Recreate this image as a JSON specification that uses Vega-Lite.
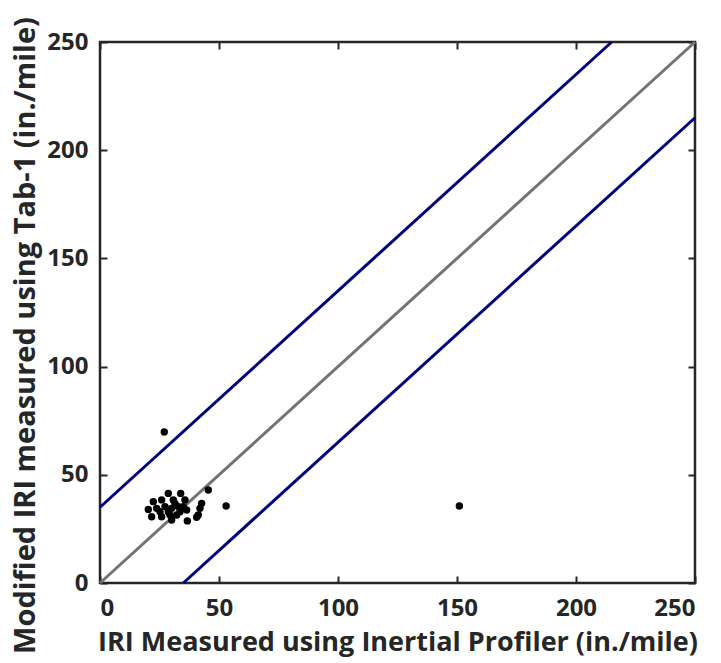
{
  "$schema": "https://vega.github.io/schema/vega-lite/v6.json",
  "width": 595,
  "height": 541,
  "autosize": "none",
  "padding": {"left": 100, "top": 42, "right": 26, "bottom": 80},
  "background": "white",
  "config": {
    "view": {"stroke": "#262626", "strokeWidth": 2.5},
    "axis": {
      "grid": false,
      "domain": false,
      "offset": -7,
      "tickSize": 7,
      "tickWidth": 2,
      "tickColor": "#262626",
      "labelFont": "Open Sans",
      "labelFontWeight": "bold",
      "labelFontSize": 24,
      "labelColor": "#262626",
      "titleFont": "Open Sans",
      "titleFontWeight": "bold",
      "titleFontSize": 27,
      "titleColor": "#262626"
    }
  },
  "datasets": {
    "lines": [
      {"x": 0, "y": 35, "x2": 215, "y2": 250, "kind": "upper"},
      {"x": 0, "y": 0, "x2": 250, "y2": 250, "kind": "equal"},
      {"x": 35, "y": 0, "x2": 250, "y2": 215, "kind": "lower"}
    ],
    "pts": [
      {"x": 28.7, "y": 41.4}, {"x": 33.9, "y": 41.4}, {"x": 25.9, "y": 38.4},
      {"x": 22.4, "y": 37.6}, {"x": 30.8, "y": 38.4}, {"x": 35.7, "y": 38.4},
      {"x": 42.7, "y": 36.8}, {"x": 20.3, "y": 34.0}, {"x": 23.8, "y": 34.5},
      {"x": 27.3, "y": 35.3}, {"x": 30.1, "y": 34.5}, {"x": 32.9, "y": 35.3},
      {"x": 36.4, "y": 33.7}, {"x": 42.0, "y": 34.5}, {"x": 21.7, "y": 30.6},
      {"x": 25.9, "y": 30.6}, {"x": 30.1, "y": 29.1}, {"x": 32.2, "y": 31.4},
      {"x": 36.7, "y": 28.7}, {"x": 41.3, "y": 31.4}, {"x": 40.6, "y": 30.4},
      {"x": 25.2, "y": 32.9}, {"x": 28.7, "y": 32.9}, {"x": 33.6, "y": 32.9},
      {"x": 29.4, "y": 31.4}, {"x": 35.0, "y": 35.3}, {"x": 31.5, "y": 36.8},
      {"x": 45.5, "y": 43.0}, {"x": 53.0, "y": 35.6}, {"x": 151.0, "y": 35.6},
      {"x": 27.0, "y": 69.8}
    ]
  },
  "resolve": {"axis": {"x": "independent", "y": "independent"}},
  "layer": [
    {
      "data": {"name": "lines"},
      "mark": {"type": "rule", "strokeWidth": 3},
      "encoding": {
        "x": {"field": "x", "type": "quantitative", "scale": {"domain": [0, 250], "nice": false}, "axis": {"values": [0, 50, 100, 150, 200, 250], "title": "IRI Measured using Inertial Profiler (in./mile)", "labelPadding": 13, "titlePadding": 9}},
        "y": {"field": "y", "type": "quantitative", "scale": {"domain": [0, 250], "nice": false}, "axis": {"values": [0, 50, 100, 150, 200, 250], "title": "Modified IRI measured using Tab-1 (in./mile)", "labelPadding": 12, "titlePadding": 6, "titleY": 293, "titleFontSize": 29}},
        "x2": {"field": "x2"},
        "y2": {"field": "y2"},
        "color": {"field": "kind", "type": "nominal", "scale": {"domain": ["upper", "equal", "lower"], "range": ["#00007f", "#737373", "#00007f"]}, "legend": null}
      }
    },
    {
      "data": {"name": "pts"},
      "mark": {"type": "circle", "size": 55, "opacity": 1, "color": "#000000"},
      "encoding": {
        "x": {"field": "x", "type": "quantitative", "axis": {"orient": "top", "values": [0, 50, 100, 150, 200, 250], "labels": false, "title": null}},
        "y": {"field": "y", "type": "quantitative", "axis": {"orient": "right", "values": [0, 50, 100, 150, 200, 250], "labels": false, "title": null}}
      }
    }
  ]
}
